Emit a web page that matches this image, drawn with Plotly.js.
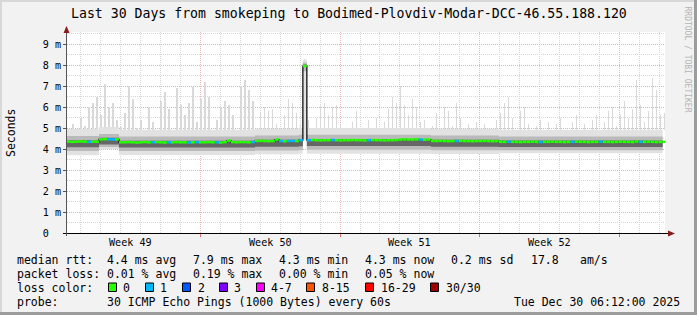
<!DOCTYPE html>
<html><head><meta charset="utf-8">
<script src="https://cdn.plot.ly/plotly-3.0.1.min.js"></script>
<style>
html,body{margin:0;padding:0;background:#f2f2f2;}
#wrap{position:relative;width:697px;height:315px;overflow:hidden;}
#chart{position:absolute;left:0;top:0;width:697px;height:315px;}
.fr{position:absolute;pointer-events:none;}
</style></head><body>
<div id="wrap"><div id="chart"></div>
<div class="fr" style="left:0;top:0;width:697px;height:2px;background:#d8d8d8"></div>
<div class="fr" style="left:0;top:0;width:2px;height:315px;background:#d8d8d8"></div>
<div class="fr" style="right:0;top:0;width:3px;height:315px;background:#9c9c9c"></div>
<div class="fr" style="left:0;bottom:0;width:697px;height:3px;background:#9c9c9c"></div>
</div>
<script>
// ---- data (ms), one value every 4.8 h starting 2025-11-30 08:12 ----
const START_UTC = Date.UTC(2025, 10, 30, 8, 12);
const STEP_HOURS = 4.8;

const median = [
4.35,4.34,4.35,4.36,4.35,4.34,4.35,4.35,4.46,4.47,
4.46,4.45,4.46,4.32,4.32,4.33,4.32,4.31,4.32,4.33,
4.32,4.32,4.33,4.32,4.31,4.32,4.32,4.33,4.32,4.32,
4.31,4.32,4.33,4.32,4.32,4.33,4.32,4.32,4.31,4.33,
4.40,4.33,4.32,4.33,4.33,4.32,4.33,4.38,4.39,4.38,
4.37,4.38,4.45,4.38,4.37,4.38,4.39,4.38,4.42,7.95,
4.42,4.43,4.42,4.41,4.42,4.42,4.43,4.42,4.41,4.42,
4.42,4.43,4.42,4.42,4.41,4.42,4.43,4.42,4.42,4.41,
4.42,4.42,4.43,4.45,4.46,4.45,4.45,4.46,4.45,4.44,
4.45,4.38,4.38,4.39,4.38,4.37,4.38,4.38,4.39,4.38,
4.38,4.37,4.38,4.38,4.39,4.38,4.37,4.38,4.34,4.34,
4.35,4.34,4.34,4.33,4.34,4.34,4.35,4.34,4.33,4.34,
4.34,4.35,4.34,4.34,4.33,4.34,4.34,4.35,4.34,4.34,
4.33,4.34,4.34,4.35,4.34,4.34,4.33,4.34,4.35,4.34,
4.34,4.33,4.36,4.34,4.34,4.35,4.34,4.33,4.34,4.34];

const lossCount = [
0,0,0,0,0,1,0,0,0,0,
1,1,0,0,0,0,0,0,0,0,
0,1,0,0,0,1,0,0,0,0,
1,0,1,0,0,0,0,1,0,0,
0,0,0,0,0,0,1,0,0,0,
0,0,0,1,0,1,1,0,1,0,
1,0,0,0,0,0,1,0,0,0,
0,0,0,0,0,1,0,0,0,0,
0,0,0,0,0,0,0,0,1,0,
0,0,0,0,0,0,0,1,0,0,
0,0,0,0,0,0,0,0,0,0,
1,0,0,0,0,0,0,0,1,0,
0,0,0,0,0,0,1,0,0,0,
0,0,0,1,0,0,0,0,0,0,
0,0,0,1,0,0,0,0,0,0];

const smokeLo1 = [
3.70,3.70,3.70,3.70,3.70,3.70,3.70,3.70,4.00,4.00,
4.00,4.00,4.00,3.72,3.72,3.72,3.72,3.72,3.72,3.72,
3.72,3.72,3.72,3.72,3.72,3.72,3.72,3.72,3.72,3.72,
3.72,3.72,3.72,3.72,3.72,3.72,3.72,3.72,3.72,3.72,
3.72,3.72,3.72,3.72,3.72,3.72,3.72,3.75,3.75,3.75,
3.75,3.75,3.75,3.75,3.75,3.75,3.75,3.75,3.78,4.45,
3.77,3.77,3.77,3.77,3.77,3.77,3.77,3.77,3.77,3.77,
3.77,3.77,3.77,3.77,3.77,3.77,3.77,3.77,3.77,3.77,
3.77,3.77,3.77,3.77,3.77,3.77,3.77,3.77,3.77,3.77,
3.77,3.76,3.76,3.76,3.76,3.76,3.76,3.76,3.76,3.76,
3.76,3.76,3.76,3.76,3.76,3.76,3.76,3.76,3.80,3.80,
3.80,3.80,3.80,3.80,3.80,3.80,3.80,3.80,3.80,3.80,
3.80,3.80,3.80,3.80,3.80,3.80,3.80,3.80,3.80,3.80,
3.80,3.80,3.80,3.80,3.80,3.80,3.80,3.80,3.80,3.80,
3.80,3.80,3.80,3.80,3.80,3.80,3.80,3.80,3.80,3.80];

const smokeLo2 = [
3.90,3.90,3.90,3.90,3.90,3.90,3.90,3.90,4.10,4.10,
4.10,4.10,4.10,3.90,3.90,3.90,3.90,3.90,3.90,3.90,
3.90,3.90,3.90,3.90,3.90,3.90,3.90,3.90,3.90,3.90,
3.90,3.90,3.90,3.90,3.90,3.90,3.90,3.90,3.90,3.90,
3.90,3.90,3.90,3.90,3.90,3.90,3.90,3.93,3.93,3.93,
3.93,3.93,3.93,3.93,3.93,3.93,3.93,3.93,3.95,7.70,
3.96,3.96,3.96,3.96,3.96,3.96,3.96,3.96,3.96,3.96,
3.96,3.96,3.96,3.96,3.96,3.96,3.96,3.96,3.96,3.96,
3.96,3.96,3.96,3.96,3.96,3.96,3.96,3.96,3.96,3.96,
3.96,3.94,3.94,3.94,3.94,3.94,3.94,3.94,3.94,3.94,
3.94,3.94,3.94,3.94,3.94,3.94,3.94,3.94,3.94,3.94,
3.94,3.94,3.94,3.94,3.94,3.94,3.94,3.94,3.94,3.94,
3.94,3.94,3.94,3.94,3.94,3.94,3.94,3.94,3.94,3.94,
3.94,3.94,3.94,3.94,3.94,3.94,3.94,3.94,3.94,3.94,
3.94,3.94,3.94,3.94,3.94,3.94,3.94,3.94,3.94,3.94];

const smokeLo3 = [
4.08,4.08,4.08,4.08,4.08,4.08,4.08,4.08,4.22,4.22,
4.22,4.22,4.22,4.07,4.07,4.07,4.07,4.07,4.07,4.07,
4.07,4.07,4.07,4.07,4.07,4.07,4.07,4.07,4.07,4.07,
4.07,4.07,4.07,4.07,4.07,4.07,4.07,4.07,4.07,4.07,
4.07,4.07,4.07,4.07,4.07,4.07,4.07,4.11,4.11,4.11,
4.11,4.11,4.11,4.11,4.11,4.11,4.11,4.11,4.13,7.90,
4.14,4.14,4.14,4.14,4.14,4.14,4.14,4.14,4.14,4.14,
4.14,4.14,4.14,4.14,4.14,4.14,4.14,4.14,4.14,4.14,
4.14,4.14,4.14,4.14,4.14,4.14,4.14,4.14,4.14,4.14,
4.14,4.11,4.11,4.11,4.11,4.11,4.11,4.11,4.11,4.11,
4.11,4.11,4.11,4.11,4.11,4.11,4.11,4.11,4.09,4.09,
4.09,4.09,4.09,4.09,4.09,4.09,4.09,4.09,4.09,4.09,
4.09,4.09,4.09,4.09,4.09,4.09,4.09,4.09,4.09,4.09,
4.09,4.09,4.09,4.09,4.09,4.09,4.09,4.09,4.09,4.09,
4.09,4.09,4.09,4.09,4.09,4.09,4.09,4.09,4.09,4.09];

const smokeHi3 = [
4.42,4.42,4.42,4.42,4.42,4.42,4.42,4.42,4.53,4.53,
4.53,4.53,4.53,4.39,4.39,4.39,4.39,4.39,4.39,4.39,
4.39,4.39,4.39,4.39,4.39,4.39,4.39,4.39,4.39,4.39,
4.39,4.39,4.39,4.39,4.39,4.39,4.39,4.39,4.39,4.39,
4.39,4.39,4.39,4.39,4.39,4.39,4.39,4.44,4.44,4.44,
4.44,4.44,4.44,4.44,4.44,4.44,4.44,4.44,4.48,8.02,
4.48,4.48,4.48,4.48,4.48,4.48,4.48,4.48,4.48,4.48,
4.48,4.48,4.48,4.48,4.48,4.48,4.48,4.48,4.48,4.48,
4.48,4.48,4.48,4.48,4.48,4.48,4.48,4.48,4.48,4.48,
4.48,4.44,4.44,4.44,4.44,4.44,4.44,4.44,4.44,4.44,
4.44,4.44,4.44,4.44,4.44,4.44,4.44,4.44,4.40,4.40,
4.40,4.40,4.40,4.40,4.40,4.40,4.40,4.40,4.40,4.40,
4.40,4.40,4.40,4.40,4.40,4.40,4.40,4.40,4.40,4.40,
4.40,4.40,4.40,4.40,4.40,4.40,4.40,4.40,4.40,4.40,
4.40,4.40,4.40,4.40,4.40,4.40,4.40,4.40,4.40,4.40];

const smokeHi2 = [
4.62,4.62,4.62,4.62,4.62,4.62,4.62,4.62,4.72,4.72,
4.72,4.72,4.72,4.60,4.60,4.60,4.60,4.60,4.60,4.60,
4.60,4.60,4.60,4.60,4.60,4.60,4.60,4.60,4.60,4.60,
4.60,4.60,4.60,4.60,4.60,4.60,4.60,4.60,4.60,4.60,
4.60,4.60,4.60,4.60,4.60,4.60,4.60,4.64,4.64,4.64,
4.64,4.64,4.64,4.64,4.64,4.64,4.64,4.64,4.68,8.12,
4.68,4.68,4.68,4.68,4.68,4.68,4.68,4.68,4.68,4.68,
4.68,4.68,4.68,4.68,4.68,4.68,4.68,4.68,4.68,4.68,
4.68,4.68,4.68,4.68,4.68,4.68,4.68,4.68,4.68,4.68,
4.68,4.64,4.64,4.64,4.64,4.64,4.64,4.64,4.64,4.64,
4.64,4.64,4.64,4.64,4.64,4.64,4.64,4.64,4.60,4.60,
4.60,4.60,4.60,4.60,4.60,4.60,4.60,4.60,4.60,4.60,
4.60,4.60,4.60,4.60,4.60,4.60,4.60,4.60,4.60,4.60,
4.60,4.60,4.60,4.60,4.60,4.60,4.60,4.60,4.60,4.60,
4.60,4.60,4.60,4.60,4.60,4.60,4.60,4.60,4.60,4.60];

const smokeHi1 = [
4.95,4.95,4.95,4.95,4.95,4.95,4.95,4.95,5.05,5.05,
5.05,5.05,5.05,4.92,4.92,4.92,4.92,4.92,4.92,4.92,
4.92,4.92,4.92,4.92,4.92,4.92,4.92,4.92,4.92,4.92,
4.92,4.92,4.92,4.92,4.92,4.92,4.92,4.92,4.92,4.92,
4.92,4.92,4.92,4.92,4.92,4.92,4.92,4.96,4.96,4.96,
4.96,4.96,4.96,4.96,4.96,4.96,4.96,4.96,5.00,8.25,
5.00,5.00,5.00,5.00,5.00,5.00,5.00,5.00,5.00,5.00,
5.00,5.00,5.00,5.00,5.00,5.00,5.00,5.00,5.00,5.00,
5.00,5.00,5.00,5.00,5.00,5.00,5.00,5.00,5.00,5.00,
5.00,4.96,4.96,4.96,4.96,4.96,4.96,4.96,4.96,4.96,
4.96,4.96,4.96,4.96,4.96,4.96,4.96,4.96,4.92,4.92,
4.92,4.92,4.92,4.92,4.92,4.92,4.92,4.92,4.92,4.92,
4.92,4.92,4.92,4.92,4.92,4.92,4.92,4.92,4.92,4.92,
4.92,4.92,4.92,4.92,4.92,4.92,4.92,4.92,4.92,4.92,
4.92,4.92,4.92,4.92,4.92,4.92,4.92,4.92,4.92,4.92];

const spikeMax = [
4.95,5.2,4.95,5.5,5.1,6.0,6.2,6.5,5.6,7.1,
6.0,6.2,5.4,5.05,5.7,7.0,6.4,5.0,5.4,4.92,
6.0,5.3,4.92,6.3,6.7,5.9,4.92,6.9,6.1,5.6,
6.2,6.95,5.3,6.4,7.2,6.5,4.92,5.4,6.0,6.3,
6.1,5.6,4.92,7.0,7.3,6.8,6.3,4.92,5.7,6.0,
5.8,5.9,5.2,4.96,5.6,6.4,6.2,5.7,5.2,8.3,
5.4,5.0,5.5,6.0,6.2,5.6,6.0,6.1,5.2,5.0,
5.0,5.3,5.8,5.0,5.0,5.4,5.0,5.5,5.0,5.3,
5.9,6.5,6.2,7.0,6.1,5.6,6.4,6.0,5.3,5.4,
5.0,5.1,5.7,4.96,6.0,5.8,5.1,6.2,5.5,4.96,
5.2,4.96,5.3,4.96,5.2,4.96,4.96,5.4,5.7,6.2,
6.5,5.5,4.92,5.8,6.0,5.2,4.92,5.1,5.4,4.92,
5.3,4.92,5.2,5.5,4.92,4.92,5.3,5.6,4.92,5.2,
4.92,5.4,5.6,4.92,5.3,5.8,6.0,5.1,5.6,6.3,
5.5,5.9,7.3,6.1,5.3,5.8,7.4,6.8,5.6,5.7];

const yTickVals = [0,1,2,3,4,5,6,7,8,9];
const yTickText = ['0\u00a0\u00a0','1 m','2 m','3 m','4 m','5 m','6 m','7 m','8 m','9 m'];
const weekLabels = ['Week 49','Week 50','Week 51','Week 52'];
const weekCenters = ['2025-12-03 12:00','2025-12-10 12:00','2025-12-17 12:00','2025-12-24 12:00'];
const weekStarts = ['2025-12-07','2025-12-14','2025-12-21','2025-12-28'];
const lossLabels = ['0','1','2','3','4-7','8-15','16-29','30/30'];
const lossColors = ['#26ff00','#00b8ff','#0059ff','#7e00ff','#ff00ff','#ff5500','#ff0000','#a00000'];
const statRows = [
  ['median rtt:', '4.4 ms avg', '7.9 ms max', '4.3 ms min', '4.3 ms now', '0.2 ms sd', '17.8', 'am/s'],
  ['packet loss:', '0.01 % avg', '0.19 % max', '0.00 % min', '0.05 % now']
];
const titleText = 'Last 30 Days from smokeping to Bodimed-Plovdiv-Modar-DCC-46.55.188.120';
const probeText = '30 ICMP Echo Pings (1000 Bytes) every 60s';
const dateText = 'Tue Dec 30 06:12:00 2025';

// ---- helpers ----
const stepMs = STEP_HOURS * 3600e3;
function fmt(ms){const d=new Date(ms);const p=n=>String(n).padStart(2,'0');
  return d.getUTCFullYear()+'-'+p(d.getUTCMonth()+1)+'-'+p(d.getUTCDate())+' '+p(d.getUTCHours())+':'+p(d.getUTCMinutes())+':'+p(d.getUTCSeconds());}
const times = median.map((_, i) => fmt(START_UTC + i * stepMs));

const L=67, R=665, T=32, B=233;
const px = x => (x - L) / (R - L);
const py = y => (B - y) / (B - T);
const MONO = 'DejaVu Sans Mono';

function band(lo, hi, color){
  return [
    {x: times, y: lo, type:'scatter', mode:'lines', line:{width:0, shape:'hv'}, hoverinfo:'skip'},
    {x: times, y: hi, type:'scatter', mode:'lines', line:{width:0, shape:'hv'}, fill:'tonexty', fillcolor: color, hoverinfo:'skip'}
  ];
}
function lossSegments(k){
  const xs=[], ys=[];
  median.forEach((m,i)=>{ if(lossCount[i]===k){ xs.push(times[i], fmt(START_UTC+(i+1)*stepMs), null); ys.push(m,m,null);} });
  return {x:xs, y:ys, type:'scatter', mode:'lines', line:{width:2.5, color:lossColors[k]}, hoverinfo:'skip', connectgaps:false};
}

const traces = [
  {type:'bar', x:times, base:smokeHi1, y:spikeMax.map((v,i)=>Math.max(0, v - smokeHi1[i])),
   width:0.3*stepMs, offset:0.35*stepMs, marker:{color:'#d9d9d9', line:{width:0}}, hoverinfo:'skip'},
  ...band(smokeLo1, smokeHi1, '#e2e2e2'),
  ...band(smokeLo2, smokeHi2, '#bababa'),
  ...band(smokeLo3, smokeHi3, '#666666'),
  {x:times, y:median, type:'scatter', mode:'lines', line:{width:1.2, color:'#000', shape:'hv'}, hoverinfo:'skip'},
  lossSegments(0),
  lossSegments(1)
];

const annotations = [];
function ann(text, x, y, opts){
  annotations.push(Object.assign({text, xref:'paper', yref:'paper', x:px(x), y:py(y), showarrow:false,
    xanchor:'left', yanchor:'middle', font:{family:MONO, size:11.5, color:'#000'}}, opts||{}));
}
ann(titleText, 348.5, 14, {xanchor:'center', font:{family:MONO, size:13.2, color:'#000'}});
ann('Seconds', 10.5, 132.5, {xanchor:'center', textangle:-90});
ann('RRDTOOL / TOBI OETIKER', 687.5, 59, {xanchor:'center', textangle:90, font:{family:MONO, size:8, color:'#b4b4b4'}});
weekLabels.forEach((w,i)=>annotations.push({text:w, xref:'x', yref:'paper', x:weekCenters[i], y:py(242.5),
  showarrow:false, xanchor:'center', yanchor:'middle', font:{family:MONO, size:10.1, color:'#000'}}));
const colX = [14.5, 105, 191, 277, 363, 449, 529, 577.5];
statRows.forEach((row, r)=>row.forEach((txt, c)=>ann(txt, colX[c], 259.5 + r*14)));
ann('loss color:', 14.5, 287.5);
const boxX = [108.5,145.5,182.5,219.5,256.5,306.5,365.5,430.5];
const labX = [121,158,195.5,232,268.5,319.5,378.5,443.5];
const shapes = [];
lossLabels.forEach((l,i)=>{
  ann(l, labX[i], 287.5);
  shapes.push({type:'rect', xref:'paper', yref:'paper', x0:px(boxX[i]), x1:px(boxX[i]+8), y0:py(291.5), y1:py(283),
    fillcolor:lossColors[i], line:{color:'#000', width:1}});
});
ann('probe:', 14.5, 301.5);
ann(probeText, 105, 301.5);
ann(dateText, 511.5, 301.5);

// axes lines and arrows
shapes.push({type:'line', xref:'paper', yref:'paper', x0:px(63), x1:px(669), y0:py(233.5), y1:py(233.5), line:{color:'#000', width:1}});
shapes.push({type:'line', xref:'paper', yref:'paper', x0:px(66.5), x1:px(66.5), y0:py(236), y1:py(32), line:{color:'#555', width:1}});
shapes.push({type:'path', xref:'paper', yref:'paper',
  path:`M ${px(675)},${py(233.5)} L ${px(668)},${py(230.5)} L ${px(668)},${py(236.5)} Z`, fillcolor:'#8b1a1a', line:{width:0}});
shapes.push({type:'path', xref:'paper', yref:'paper',
  path:`M ${px(66.5)},${py(26)} L ${px(63.5)},${py(33)} L ${px(69.5)},${py(33)} Z`, fillcolor:'#8b1a1a', line:{width:0}});

const layout = {
  width:697, height:315, margin:{l:67, r:32, t:32, b:82, pad:0},
  paper_bgcolor:'#f2f2f2', plot_bgcolor:'#ffffff', showlegend:false,
  barmode:'overlay', bargap:0,
  font:{family:MONO, size:10.1, color:'#000'},
  xaxis:{type:'date', range:['2025-11-30 08:12','2025-12-30 06:12'], tickmode:'array', tickvals:weekStarts,
    showticklabels:false, showgrid:true, gridcolor:'#f0b6b6', griddash:'1px,1px', gridwidth:1,
    ticks:'outside', ticklen:3, tickcolor:'#e07070', zeroline:false, showline:false, fixedrange:true,
    minor:{dtick:86400000, tick0:'2025-12-01', showgrid:true, gridcolor:'#d6d6d6', griddash:'1px,1px', ticks:''}},
  yaxis:{range:[0, 201/21], tickmode:'array', tickvals:yTickVals, ticktext:yTickText,
    showgrid:true, gridcolor:'#ecacac', griddash:'1px,1px', ticks:'outside', ticklen:3, tickcolor:'#555',
    zeroline:false, showline:false, fixedrange:true, tickfont:{family:MONO, size:10.1, color:'#000'},
    minor:{dtick:0.5, tick0:0, showgrid:true, gridcolor:'#d6d6d6', griddash:'1px,1px', ticks:''}},
  shapes, annotations
};
Plotly.newPlot('chart', traces, layout, {staticPlot:true, displayModeBar:false});
</script>
</body></html>
